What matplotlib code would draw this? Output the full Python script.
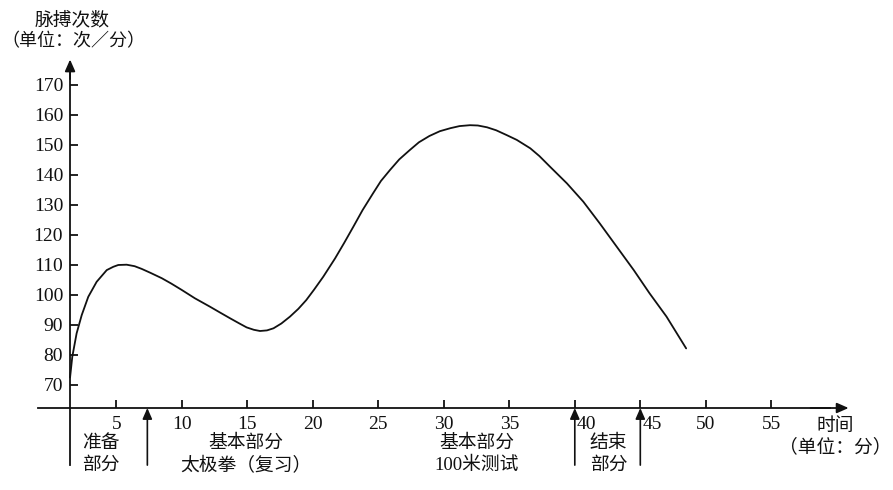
import matplotlib
matplotlib.use("Agg")
import matplotlib.pyplot as plt
from matplotlib.transforms import ScaledTranslation

# ---- data ----
time_min = [1.47, 1.64, 1.97, 2.36, 2.86, 3.5, 4.27, 4.77, 5.15, 5.79, 6.4, 6.94, 7.6,
            8.47, 9.2, 9.99, 11.0, 12.15, 12.9, 13.7, 14.4, 14.95, 15.5, 15.97, 16.5,
            17.0, 17.6, 18.26, 18.9, 19.5, 20.1, 20.8, 21.7, 22.4, 23.1, 23.8, 24.6,
            25.2, 25.9, 26.6, 27.4, 28.1, 28.9, 29.7, 30.5, 31.2, 32.0, 32.6, 33.3,
            34.0, 34.8, 35.57, 36.6, 37.3, 38.1, 39.4, 40.65, 41.9, 43.2, 44.5, 45.7,
            47.0, 48.5]
pulse = [72.5, 79.4, 87.2, 93.3, 99.4, 104.4, 108.3, 109.4, 110.0, 110.1, 109.6, 108.7, 107.4,
         105.6, 103.8, 101.7, 98.9, 96.1, 94.2, 92.2, 90.5, 89.2, 88.4, 88.0, 88.2,
         88.9, 90.5, 92.8, 95.4, 98.3, 101.8, 106.1, 112.2, 117.4, 122.8, 128.3, 133.9,
         138.0, 141.7, 145.2, 148.3, 150.9, 153.0, 154.6, 155.6, 156.3, 156.6, 156.5, 155.9,
         154.9, 153.3, 151.7, 148.9, 146.3, 142.8, 137.2, 131.1, 123.9, 116.1, 108.3, 100.6,
         92.8, 82.2]

x_ticks = [5, 10, 15, 20, 25, 30, 35, 40, 45, 50, 55]
y_ticks = [70, 80, 90, 100, 110, 120, 130, 140, 150, 160, 170]
phase_marks = [7.37, 40, 45]          # arrows separating phases
phase_labels = [
    (3.82, ["准备", "部分"]),
    (14.9, ["基本部分", "太极拳（复习）"]),
    (32.5, ["基本部分", "100米测试"]),
    (42.56, ["结束", "部分"]),
]
y_title = ["脉搏次数", "（单位：次／分）"]
x_title = ["时间", "（单位：分）"]

FONT = ["Liberation Serif", "Noto Sans CJK SC", "DejaVu Sans"]
plt.rcParams["font.family"] = FONT

fig = plt.figure(figsize=(8.93, 4.9), dpi=100)
ax = fig.add_axes([0, 0, 1, 1])
ax.set_xlim(-3.878, 64.29)
ax.set_ylim(35, 198.33)

y_axis_x = 1.47
x_axis_y = 62.33
bottom_v = 43.3

ax.plot(time_min, pulse, color="#111111", lw=1.3, solid_capstyle="round",
        solid_joinstyle="round")

for s in ["top", "right"]:
    ax.spines[s].set_visible(False)
ax.spines["left"].set_position(("data", y_axis_x))
ax.spines["bottom"].set_position(("data", x_axis_y))
ax.spines["left"].set_bounds(bottom_v, 176)
ax.spines["bottom"].set_bounds(-0.98, 59.5)
for s in ["left", "bottom"]:
    ax.spines[s].set_linewidth(1.3)
    ax.spines[s].set_color("#111111")

arrow_kw = dict(arrowstyle="-|>,head_length=0.5,head_width=0.22", color="#111111",
                lw=1.3, mutation_scale=14, shrinkA=0, shrinkB=0)
ax.annotate("", xy=(y_axis_x, 178.5), xytext=(y_axis_x, 172), arrowprops=arrow_kw)
ax.annotate("", xy=(60.9, x_axis_y), xytext=(58, x_axis_y), arrowprops=arrow_kw)

for xm in phase_marks:
    ax.annotate("", xy=(xm, x_axis_y), xytext=(xm, bottom_v),
                arrowprops=dict(arrowstyle="-|>,head_length=0.5,head_width=0.22",
                                color="#111111", lw=1.2,
                                mutation_scale=13, shrinkA=0, shrinkB=0))

ax.set_xticks(x_ticks)
ax.set_xticklabels([str(v) for v in x_ticks])
ax.set_yticks(y_ticks)
ax.set_yticklabels([str(v) for v in y_ticks])
ax.tick_params(axis="both", direction="in", length=6, width=1.3, color="#111111",
               labelsize=14, labelcolor="#111111")
ax.tick_params(axis="x", pad=6)
ax.tick_params(axis="y", pad=5)

shift = ScaledTranslation(12 / 100, 0, fig.dpi_scale_trans)
for lab, v in zip(ax.get_xticklabels(), x_ticks):
    if v in (40, 45):
        lab.set_transform(lab.get_transform() + shift)

for xc, lines in phase_labels:
    ax.text(xc, 50.6, lines[0], ha="center", va="center", fontsize=13.5, color="#111111")
    ax.text(xc, 43.1, lines[1], ha="center", va="center", fontsize=13.5, color="#111111")

ax.text(59.9, 56.1, x_title[0], ha="center", va="center", fontsize=13.5, color="#111111")
ax.text(59.86, 49.1, x_title[1], ha="center", va="center", fontsize=13.5, color="#111111")
ax.text(1.66, 191.4, y_title[0], ha="center", va="center", fontsize=13.5, color="#111111")
ax.text(1.72, 184.4, y_title[1], ha="center", va="center", fontsize=13.0, color="#111111")

fig.savefig("out.png", dpi=100)
